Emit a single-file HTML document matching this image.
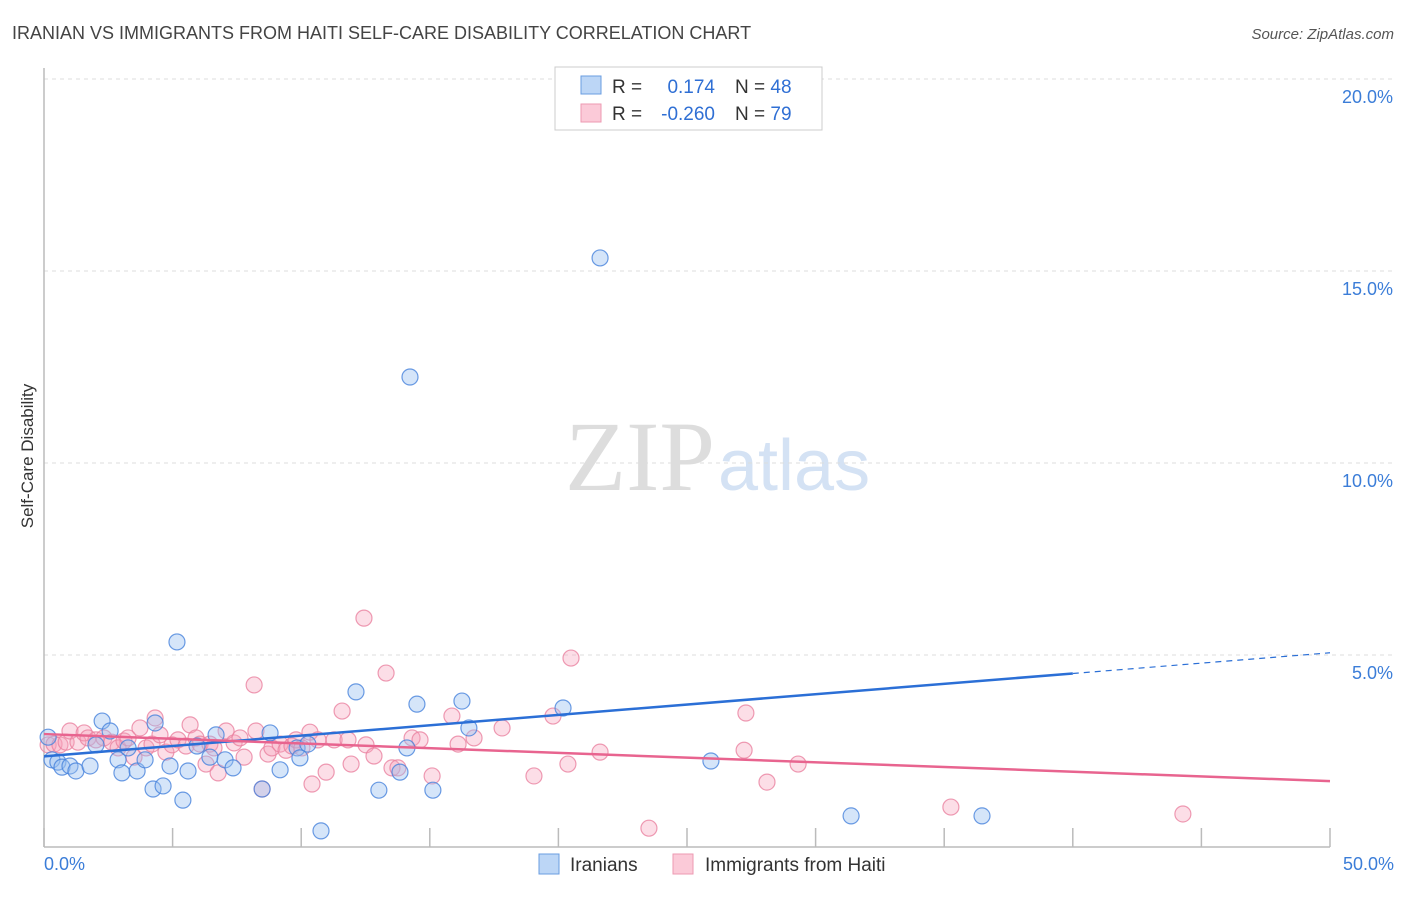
<!DOCTYPE html>
<html><head><meta charset="utf-8"><style>
body{margin:0;background:#fff;font-family:"Liberation Sans",sans-serif;}
svg text{font-family:"Liberation Sans",sans-serif;}
svg text.serif{font-family:"Liberation Serif",serif;}
</style></head><body>
<svg id="chart" width="1406" height="892" xmlns="http://www.w3.org/2000/svg">
<text x="12" y="39" font-size="18" fill="#444">IRANIAN VS IMMIGRANTS FROM HAITI SELF-CARE DISABILITY CORRELATION CHART</text>
<text x="1394" y="39" font-size="15" fill="#555" text-anchor="end" font-style="italic">Source: ZipAtlas.com</text>
<text class="serif" x="715" y="490" font-size="100" fill="#ddd" text-anchor="end">ZIP</text>
<text x="718" y="490" font-size="72" fill="#d4e2f4">atlas</text>
<text transform="translate(33,456) rotate(-90)" font-size="17" fill="#333" text-anchor="middle">Self-Care Disability</text>
<g id="grid"></g><g id="marks"></g><g id="lines"></g>
<g>
<rect x="555" y="67" width="267" height="63" fill="#fff" stroke="#ccc"/>
<rect x="581" y="76" width="20" height="18" fill="#bcd6f6" stroke="#6a9de0"/>
<rect x="581" y="104" width="20" height="18" fill="#fbcad8" stroke="#ec9ab2"/>
<text x="612" y="93" font-size="19" fill="#333">R =</text>
<text x="715" y="93" font-size="19" fill="#2f6fd4" text-anchor="end">0.174</text>
<text x="735" y="93" font-size="19" fill="#333">N = <tspan fill="#2f6fd4">48</tspan></text>
<text x="612" y="120" font-size="19" fill="#333">R =</text>
<text x="715" y="120" font-size="19" fill="#2f6fd4" text-anchor="end">-0.260</text>
<text x="735" y="120" font-size="19" fill="#333">N = <tspan fill="#2f6fd4">79</tspan></text>
</g>
<g>
<rect x="539" y="854" width="20" height="20" fill="#bcd6f6" stroke="#6a9de0"/>
<text x="570" y="871" font-size="19" fill="#333">Iranians</text>
<rect x="673" y="854" width="20" height="20" fill="#fbcad8" stroke="#ec9ab2"/>
<text x="705" y="871" font-size="19" fill="#333">Immigrants from Haiti</text>
</g>
</svg>
<script>
const xTicks=[0,5,10,15,20,25,30,35,40,45,50];
const yTicks=[5,10,15,20];
const yTickLabels=["5.0%","10.0%","15.0%","20.0%"];
const xEndLabels=["0.0%","50.0%"];
const iranX=[0.16,0.31,0.54,0.70,1.01,1.24,1.79,2.26,2.02,2.57,2.88,3.03,3.27,3.62,3.93,4.24,4.32,4.63,4.90,5.17,5.40,5.60,5.95,6.69,6.45,7.04,7.35,8.48,8.79,9.18,9.84,9.95,10.26,10.77,12.13,13.02,13.84,14.11,14.23,14.50,15.12,16.25,16.52,20.18,21.62,25.93,31.38,36.47];
const iranY=[2.86,2.27,2.21,2.08,2.11,1.98,2.11,3.28,2.66,3.02,2.27,1.93,2.58,1.98,2.27,1.51,3.23,1.59,2.11,5.34,1.22,1.98,2.63,2.92,2.34,2.27,2.06,1.51,2.97,2.01,2.58,2.32,2.68,0.42,4.04,1.48,1.95,2.58,12.24,3.72,1.48,3.80,3.10,3.62,15.34,2.24,0.81,0.81];
const haitiX=[0.16,0.39,0.62,0.86,1.01,1.32,1.56,1.71,2.02,2.33,2.64,2.88,3.11,3.27,3.50,3.73,3.97,4.20,4.32,4.51,4.74,4.98,5.21,5.52,5.68,5.91,6.07,6.30,6.45,6.61,6.77,7.08,7.39,7.62,7.78,8.17,8.24,8.48,8.71,8.86,9.18,9.41,9.64,9.80,10.03,10.34,10.42,10.65,10.97,11.28,11.59,11.82,11.94,12.44,12.52,12.83,13.30,13.53,13.76,14.31,14.62,15.09,15.86,16.10,16.72,17.81,19.05,19.79,20.37,20.49,21.62,23.52,27.29,27.22,28.11,29.32,35.26,44.28];
const haitiY=[2.66,2.68,2.66,2.73,3.02,2.73,2.97,2.84,2.79,2.84,2.73,2.58,2.76,2.84,2.34,3.10,2.58,2.68,3.36,2.92,2.47,2.66,2.79,2.63,3.18,2.84,2.68,2.16,2.68,2.58,1.93,3.02,2.71,2.84,2.34,4.22,3.02,1.51,2.42,2.58,2.68,2.52,2.63,2.79,2.58,2.99,1.64,2.79,1.95,2.79,3.54,2.79,2.16,5.96,2.66,2.37,4.53,2.06,2.06,2.84,2.79,1.85,3.41,2.68,2.84,3.10,1.85,3.41,2.16,4.92,2.47,0.49,3.49,2.52,1.69,2.16,1.04,0.86];
const NS="http://www.w3.org/2000/svg";
const X0=44,X1=1330,YB=847,YT=79;
const sx=v=>X0+(v/50)*(X1-X0);
const sy=v=>YB-(v/20)*(YB-YT);
function mk(tag,attrs,parent){const e=document.createElementNS(NS,tag);for(const k in attrs)e.setAttribute(k,attrs[k]);parent.appendChild(e);return e;}
const grid=document.getElementById('grid');
yTicks.forEach((t,i)=>{
 const l=mk('line',{x1:X0,x2:1394,y1:sy(t),y2:sy(t),stroke:'#ddd','stroke-dasharray':'4,4'},grid);
 
 
 const tx=mk('text',{x:1393,y:sy(t)+24,'font-size':18,fill:'#3b7dd8','text-anchor':'end'},grid);
 tx.textContent=yTickLabels[i];
 
 
});
const ax=mk('line',{x1:X0,x2:X0,y1:68,y2:YB,stroke:'#bbb','stroke-width':1.5},grid);


const bx=mk('line',{x1:X0,x2:X1,y1:YB,y2:YB,stroke:'#bbb','stroke-width':1.5},grid);


xTicks.forEach(t=>{
 const l=mk('line',{x1:sx(t),x2:sx(t),y1:828,y2:YB,stroke:'#bbb','stroke-width':1.5},grid);
 
 
});
[[0,'start',X0],[1,'end',1394]].forEach(([i,a,x])=>{
 const tx=mk('text',{x:x,y:870,'font-size':18,fill:'#3b7dd8','text-anchor':a},grid);
 tx.textContent=xEndLabels[i];
 
 
});
const marks=document.getElementById('marks');
haitiX.forEach((v,i)=>{
 const c=mk('circle',{cx:sx(v),cy:sy(haitiY[i]),r:8,fill:'rgba(246,160,186,0.35)',stroke:'rgba(234,130,160,0.8)','stroke-width':1.2},marks);
 
 
});
iranX.forEach((v,i)=>{
 const c=mk('circle',{cx:sx(v),cy:sy(iranY[i]),r:8,fill:'rgba(150,190,240,0.4)',stroke:'rgba(70,130,220,0.8)','stroke-width':1.2},marks);
 
 
});
function fit(xs,ys){const n=xs.length;let mx=0,my=0;for(let i=0;i<n;i++){mx+=xs[i];my+=ys[i];}mx/=n;my/=n;let sxy=0,sxx=0;for(let i=0;i<n;i++){sxy+=(xs[i]-mx)*(ys[i]-my);sxx+=(xs[i]-mx)**2;}const b=sxy/sxx;return [my-b*mx,b];}
const lines=document.getElementById('lines');
const [ai,bi]=fit(iranX,iranY);
const [ah,bh]=fit(haitiX,haitiY);
const l1=mk('line',{x1:sx(0),y1:sy(ai),x2:sx(40),y2:sy(ai+bi*40),stroke:'#2b6fd6','stroke-width':2.5},lines);


const l2=mk('line',{x1:sx(40),y1:sy(ai+bi*40),x2:sx(50),y2:sy(ai+bi*50),stroke:'#2b6fd6','stroke-width':1.2,'stroke-dasharray':'6,5'},lines);


const l3=mk('line',{x1:sx(0),y1:sy(ah),x2:sx(50),y2:sy(ah+bh*50),stroke:'#e8648f','stroke-width':2.5},lines);


</script>
</body></html>
